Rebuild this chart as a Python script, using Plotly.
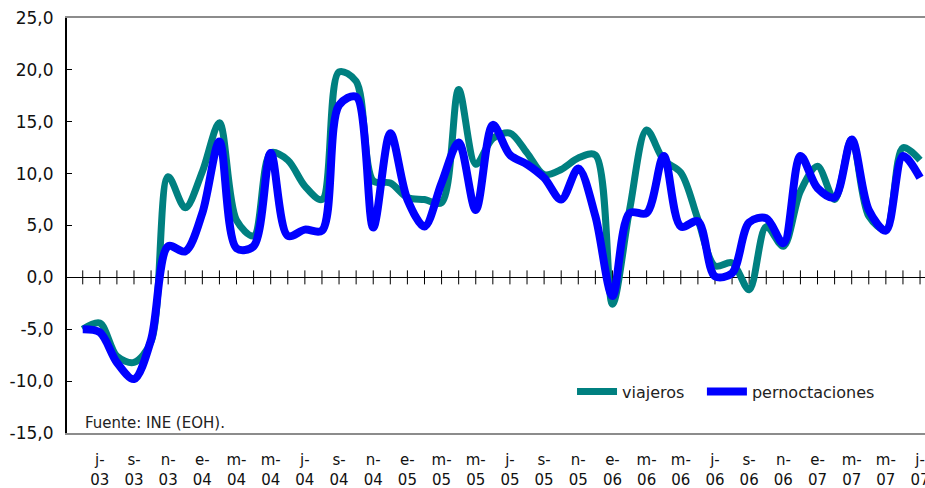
import plotly.graph_objects as go

# Meses (jun-03 ... jul-07), etiquetas del eje cada dos meses
meses = ["j-03", "j-03", "a-03", "s-03", "o-03", "n-03", "d-03",
         "e-04", "f-04", "m-04", "a-04", "m-04", "j-04", "j-04", "a-04", "s-04", "o-04", "n-04", "d-04",
         "e-05", "f-05", "m-05", "a-05", "m-05", "j-05", "j-05", "a-05", "s-05", "o-05", "n-05", "d-05",
         "e-06", "f-06", "m-06", "a-06", "m-06", "j-06", "j-06", "a-06", "s-06", "o-06", "n-06", "d-06",
         "e-07", "f-07", "m-07", "a-07", "m-07", "j-07", "j-07"]

viajeros = [-5.0, -4.4, -7.6, -8.2, -6.2, 9.7, 6.7, 10.2, 14.9, 5.5,
            4.0, 12.0, 11.3, 8.8, 7.5, 19.8, 18.9, 9.3, 9.1, 7.7,
            7.5, 7.2, 18.1, 10.9, 13.4, 13.9, 12.0, 9.9, 10.4, 11.5,
            11.8, -2.6, 6.5, 14.2, 11.3, 10.1, 5.6, 1.1, 1.4, -1.2,
            4.9, 3.0, 8.3, 10.7, 7.5, 13.3, 5.9, 4.6, 12.5, 11.3]

pernoctaciones = [-5.0, -5.3, -8.2, -9.8, -6.0, 3.0, 2.5, 6.2, 13.1, 2.8,
                  3.0, 12.0, 4.0, 4.6, 4.5, 16.6, 17.4, 4.8, 13.9, 7.5,
                  4.9, 9.1, 13.0, 6.5, 14.7, 11.8, 10.9, 9.6, 7.5, 10.5,
                  5.9, -1.8, 6.2, 6.2, 11.7, 4.9, 5.4, 0.1, 0.4, 5.3,
                  5.7, 3.3, 11.7, 8.6, 7.7, 13.3, 6.5, 4.5, 11.7, 9.6]

y_ticks = [-15, -10, -5, 0, 5, 10, 15, 20, 25]

FONT = "DejaVu Sans"
idx = list(range(len(meses)))
tick_idx = idx[1::2]
tick_text = [meses[i].replace("-", "-<br>") for i in tick_idx]
y_text = [f"{v:.1f}".replace(".", ",") for v in y_ticks]

fig = go.Figure()

# tick marks on the zero line (category axis crossing at 0)
fig.add_trace(go.Scatter(
    x=idx, y=[0] * len(idx), mode="markers", showlegend=False, hoverinfo="skip",
    marker=dict(symbol="line-ns", size=10, line=dict(color="black", width=1))))

fig.add_trace(go.Scatter(
    x=idx, y=viajeros, name="viajeros", mode="lines", legend="legend",
    line=dict(color="#008080", width=7, shape="spline", smoothing=0.9)))
fig.add_trace(go.Scatter(
    x=idx, y=pernoctaciones, name="pernoctaciones", mode="lines", legend="legend2",
    line=dict(color="#0000FF", width=8, shape="spline", smoothing=0.9)))

fig.add_annotation(text="Fuente: INE (EOH).", xref="paper", yref="paper",
                   x=0.019, y=0.024, xanchor="left", yanchor="middle",
                   showarrow=False, font=dict(family=FONT, size=15, color="#222"))

leg_common = dict(orientation="h", y=0.10, xanchor="left", yanchor="middle",
                  bgcolor="rgba(0,0,0,0)", font=dict(family=FONT, size=16, color="#222"),
                  itemwidth=40)

fig.update_layout(
    template="none",
    width=925, height=488,
    margin=dict(l=67, r=0, t=18, b=55),
    paper_bgcolor="white", plot_bgcolor="white",
    font=dict(family=FONT, size=15, color="#111"),
    showlegend=True,
    legend=dict(x=0.5886, **leg_common),
    legend2=dict(x=0.740, **leg_common),
    xaxis=dict(range=[-0.92, 49.29], tickvals=tick_idx, ticktext=tick_text,
               showgrid=False, zeroline=False, showline=True, linecolor="#8c8c8c",
               linewidth=2, mirror=True, ticks="", ticklabelstandoff=12,
               ticklabeloverflow="allow",
               automargin=False, tickfont=dict(family=FONT, size=15, color="#111")),
    yaxis=dict(range=[-15, 25], tickvals=y_ticks, ticktext=y_text,
               showgrid=False, zeroline=True, zerolinecolor="black", zerolinewidth=1,
               showline=True, linecolor="black", linewidth=2, ticks="inside",
               ticklen=5, tickcolor="black", automargin=False, ticklabelstandoff=8,
               tickfont=dict(family=FONT, size=17, color="#111")),
)

# remove the default page margin so the 925x488 figure fills the window exactly
fig.write_html("out.html",
               config={"displayModeBar": False},
               post_script="document.body.style.margin='0';document.body.style.overflow='hidden';")
